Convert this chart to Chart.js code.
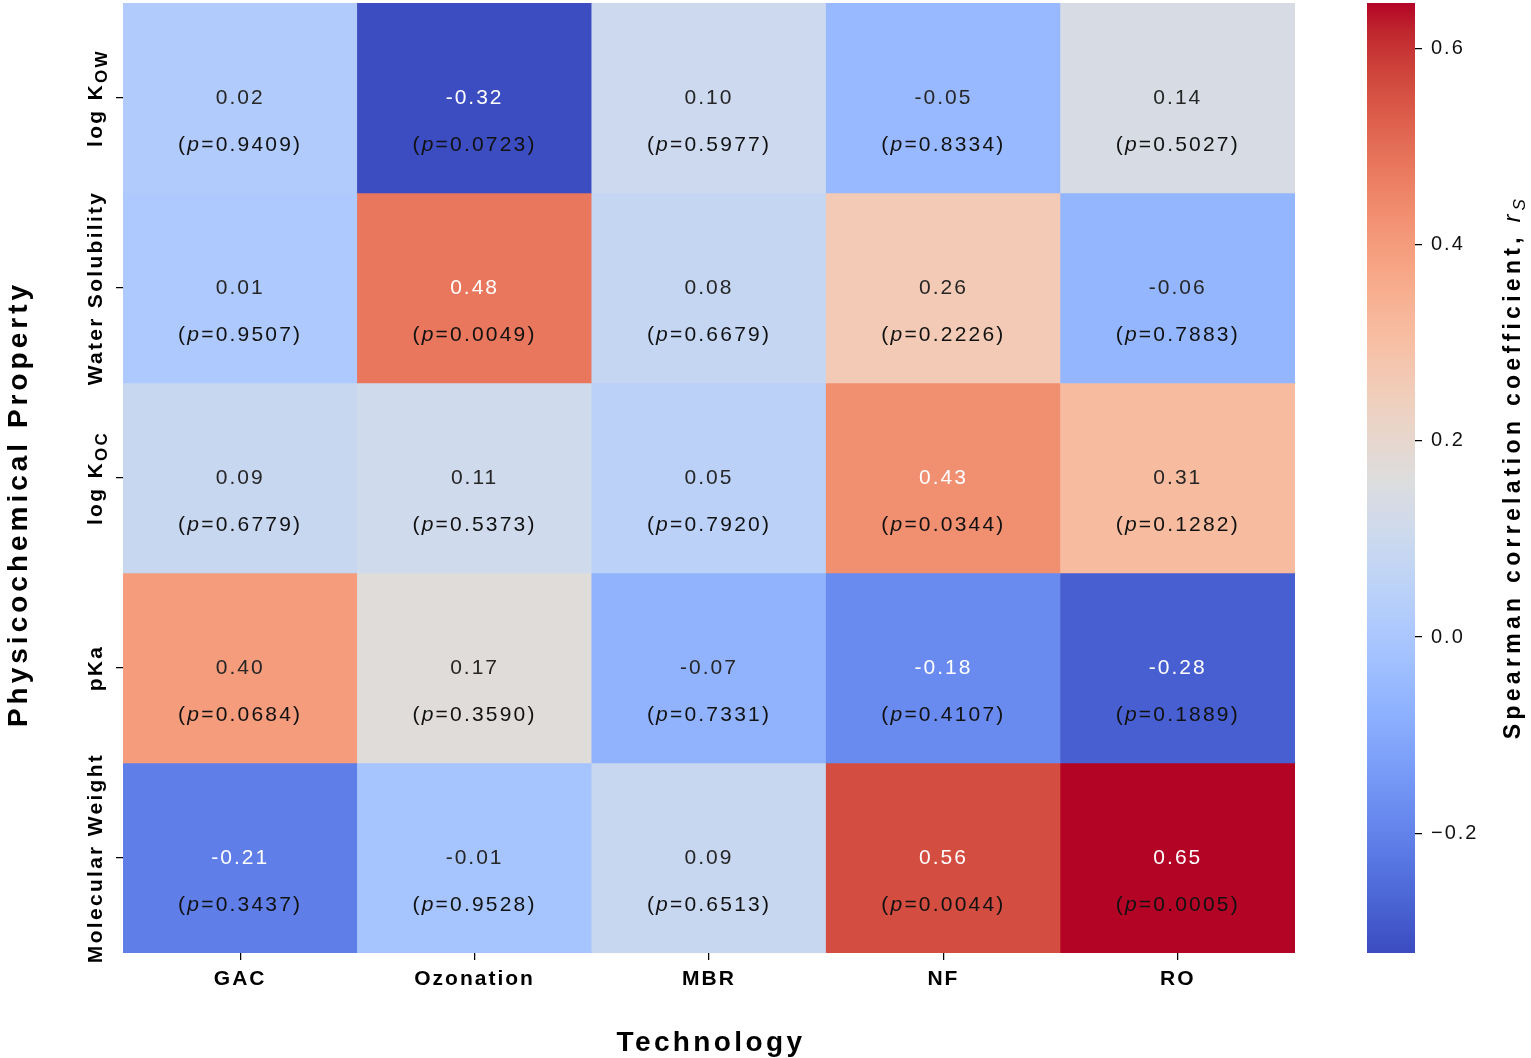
<!DOCTYPE html>
<html>
<head>
<meta charset="utf-8">
<script src="https://cdn.jsdelivr.net/npm/chart.js@4.4.1/dist/chart.umd.min.js"></script>
<style>
  html, body { margin: 0; padding: 0; background: #fff; }
  #wrap { position: relative; width: 1531px; height: 1058px; overflow: hidden; }
  #heat { position: absolute; left: 0; top: 0; }
  #cbar { position: absolute; left: 1360px; top: 0; }
</style>
</head>
<body>
<div id="wrap">
  <canvas id="heat" width="1531" height="1058"></canvas>
  <canvas id="cbar" width="171" height="1058"></canvas>
</div>
<script>
var technologies = ['GAC', 'Ozonation', 'MBR', 'NF', 'RO'];
var properties = ['log K_{OW}', 'Water Solubility', 'log K_{OC}', 'pKa', 'Molecular Weight'];

// Spearman rs, one array per property (row), in technology order
var rsLogKow      = [0.02, -0.32, 0.10, -0.05, 0.14];
var rsWaterSol    = [0.01, 0.48, 0.08, 0.26, -0.06];
var rsLogKoc      = [0.09, 0.11, 0.05, 0.43, 0.31];
var rsPka         = [0.40, 0.17, -0.07, -0.18, -0.28];
var rsMolWeight   = [-0.21, -0.01, 0.09, 0.56, 0.65];

// p values
var pLogKow       = ['0.9409', '0.0723', '0.5977', '0.8334', '0.5027'];
var pWaterSol     = ['0.9507', '0.0049', '0.6679', '0.2226', '0.7883'];
var pLogKoc       = ['0.6779', '0.5373', '0.7920', '0.0344', '0.1282'];
var pPka          = ['0.0684', '0.3590', '0.7331', '0.4107', '0.1889'];
var pMolWeight    = ['0.3437', '0.9528', '0.6513', '0.0044', '0.0005'];

var rsValues = [rsLogKow, rsWaterSol, rsLogKoc, rsPka, rsMolWeight];
var pValues = [pLogKow, pWaterSol, pLogKoc, pPka, pMolWeight];

var colorbarTicks = [-0.2, 0.0, 0.2, 0.4, 0.6];
var CB_MIN = -0.322, CB_MAX = 0.646;

var FONT = '"Liberation Sans", Arial, Helvetica, sans-serif';

// matplotlib coolwarm
var CW = [
  [59,76,192],[68,90,204],[77,104,215],[87,117,225],[98,130,234],[108,142,241],
  [119,154,247],[130,165,251],[141,176,254],[152,185,255],[163,194,255],[174,201,253],
  [184,208,249],[194,213,244],[204,217,238],[213,219,230],[221,221,221],[229,216,209],
  [236,211,197],[241,204,184],[245,196,172],[247,187,159],[247,177,147],[247,166,134],
  [244,154,123],[241,141,111],[236,127,99],[229,112,88],[222,96,77],[213,80,66],
  [203,62,56],[192,40,47],[180,4,38]
];

function coolwarm(t) {
  t = Math.max(0, Math.min(1, t));
  var n = CW.length - 1, f = t * n, i = Math.min(Math.floor(f), n - 1), u = f - i;
  var a = CW[i], b = CW[i + 1];
  return [0, 1, 2].map(function (k) { return a[k] + (b[k] - a[k]) * u; });
}
function rgb(c) { return 'rgb(' + c.map(Math.round).join(',') + ')'; }
function cellRgb(v) { return coolwarm((v - CB_MIN) / (CB_MAX - CB_MIN)); }

// seaborn-like annotation colour from luminance
function textColor(c) {
  var lin = c.map(function (x) { x /= 255; return x <= 0.03928 ? x / 12.92 : Math.pow((x + 0.055) / 1.055, 2.4); });
  var lum = 0.2126 * lin[0] + 0.7152 * lin[1] + 0.0722 * lin[2];
  return lum > 0.408 ? '#262626' : '#ffffff';
}

function drawRich(ctx, parts, x, y, rot, spacing) {
  ctx.save();
  ctx.translate(x, y);
  ctx.rotate(rot);
  ctx.letterSpacing = spacing + 'px';
  ctx.textBaseline = 'middle';
  ctx.textAlign = 'left';
  var total = 0;
  parts.forEach(function (p) { ctx.font = p.font; p.w = ctx.measureText(p.text).width; total += p.w; });
  var cx = -total / 2;
  parts.forEach(function (p) {
    ctx.font = p.font;
    ctx.fillStyle = p.color || '#000';
    ctx.fillText(p.text, cx, p.dy || 0);
    cx += p.w;
  });
  ctx.restore();
}

function subParts(label, size, weight) {
  var m = label.match(/^(.*)_\{(.*)\}$/);
  var main = weight + ' ' + size + 'px ' + FONT;
  if (!m) return [{ text: label, font: main }];
  return [
    { text: m[1], font: main },
    { text: m[2], font: weight + ' ' + Math.round(size * 0.8) + 'px ' + FONT, dy: size * 0.32 }
  ];
}

function noPad(s) { s.paddingTop = 0; s.paddingBottom = 0; }

var heatLabels = {
  id: 'heatLabels',
  beforeDraw: function (chart) { chart.ctx.letterSpacing = '2px'; },
  afterDraw: function (chart) {
    var ctx = chart.ctx, area = chart.chartArea, yScale = chart.scales.y;
    properties.forEach(function (name, r) {
      var meta = chart.getDatasetMeta(r);
      meta.data.forEach(function (bar, c) {
        var cy = (bar.y + bar.base) / 2;
        var v = rsValues[r][c];
        drawRich(ctx, [{ text: v.toFixed(2), font: '21px ' + FONT, color: textColor(cellRgb(v)) }],
          bar.x, cy, 0, 2);
        drawRich(ctx, [
          { text: '(', font: '21px ' + FONT, color: '#111' },
          { text: 'p', font: 'italic 21px ' + FONT, color: '#111' },
          { text: '=' + pValues[r][c] + ')', font: '21px ' + FONT, color: '#111' }
        ], bar.x, cy + 47, 0, 2.2);
      });
      drawRich(ctx, subParts(name, 21, 'bold'), 96, yScale.getPixelForValue(r + 0.5), -Math.PI / 2, 2.3);
    });
    drawRich(ctx, [{ text: 'Physicochemical Property', font: 'bold 28px ' + FONT }],
      19, (area.top + area.bottom) / 2 + 26, -Math.PI / 2, 4);
    drawRich(ctx, [{ text: 'Technology', font: 'bold 28px ' + FONT }],
      (area.left + area.right) / 2 + 2, 1043, 0, 3.4);
  }
};

var heatChart = new Chart(document.getElementById('heat'), {
  type: 'bar',
  data: {
    labels: technologies,
    datasets: properties.map(function (name, r) {
      return {
        label: name,
        data: technologies.map(function () { return 1; }),
        backgroundColor: rsValues[r].map(function (v) { return rgb(cellRgb(v)); }),
        borderWidth: 0,
        barPercentage: 1,
        categoryPercentage: 1
      };
    })
  },
  options: {
    responsive: false,
    animation: false,
    layout: { padding: { top: 3, right: 236, left: 0, bottom: 0 } },
    plugins: { legend: { display: false }, tooltip: { enabled: false } },
    scales: {
      x: {
        stacked: true,
        border: { display: false },
        grid: { offset: false, drawOnChartArea: false, tickLength: 7, color: '#000', lineWidth: 1.25 },
        ticks: { font: { family: FONT, size: 21, weight: 'bold' }, color: '#000', padding: 7, maxRotation: 0 },
        afterFit: function (s) { s.height = 105; }
      },
      y: {
        stacked: true,
        reverse: true,
        min: 0,
        max: properties.length,
        border: { display: false },
        grid: { drawOnChartArea: false, tickLength: 7, color: '#000', lineWidth: 1.25 },
        ticks: { display: false },
        afterBuildTicks: function (s) {
          s.ticks = properties.map(function (p, i) { return { value: i + 0.5 }; });
        },
        afterFit: function (s) { s.width = 123; noPad(s); }
      }
    }
  },
  plugins: [heatLabels]
});

var cbarTitle = {
  id: 'cbarTitle',
  beforeDraw: function (chart) { chart.ctx.letterSpacing = '2px'; },
  afterDraw: function (chart) {
    var area = chart.chartArea;
    drawRich(chart.ctx, [
      { text: 'Spearman correlation coefficient, ', font: 'bold 23px ' + FONT },
      { text: 'r', font: 'italic 23px ' + FONT },
      { text: 'S', font: 'italic 17px ' + FONT, dy: 6 }
    ], 154, (area.top + area.bottom) / 2 - 11, -Math.PI / 2, 4.3);
  }
};

var cbarChart = new Chart(document.getElementById('cbar'), {
  type: 'bar',
  data: {
    labels: [''],
    datasets: [{
      data: [[CB_MIN, CB_MAX]],
      borderWidth: 0,
      barPercentage: 1,
      categoryPercentage: 1,
      backgroundColor: function (context) {
        var chart = context.chart, y = chart.scales.y;
        if (!chart.chartArea || !y) return '#ddd';
        var g = chart.ctx.createLinearGradient(0, y.getPixelForValue(CB_MIN), 0, y.getPixelForValue(CB_MAX));
        CW.forEach(function (c, i) { g.addColorStop(i / (CW.length - 1), rgb(c)); });
        return g;
      }
    }]
  },
  options: {
    responsive: false,
    animation: false,
    layout: { padding: { left: 7, top: 3, bottom: 105, right: 0 } },
    plugins: { legend: { display: false }, tooltip: { enabled: false } },
    scales: {
      x: { display: false },
      y: {
        position: 'right',
        min: CB_MIN,
        max: CB_MAX,
        border: { display: false },
        grid: { drawOnChartArea: false, tickLength: 7, color: '#000', lineWidth: 1.25 },
        ticks: {
          font: { family: FONT, size: 20 },
          color: '#111',
          padding: 9,
          callback: function (v) { return (v < 0 ? '\u2212' : '') + Math.abs(v).toFixed(1); }
        },
        afterBuildTicks: function (s) {
          s.ticks = colorbarTicks.map(function (v) { return { value: v }; });
        },
        afterFit: function (s) { s.width = 116; noPad(s); }
      }
    }
  },
  plugins: [cbarTitle]
});
</script>
</body>
</html>
